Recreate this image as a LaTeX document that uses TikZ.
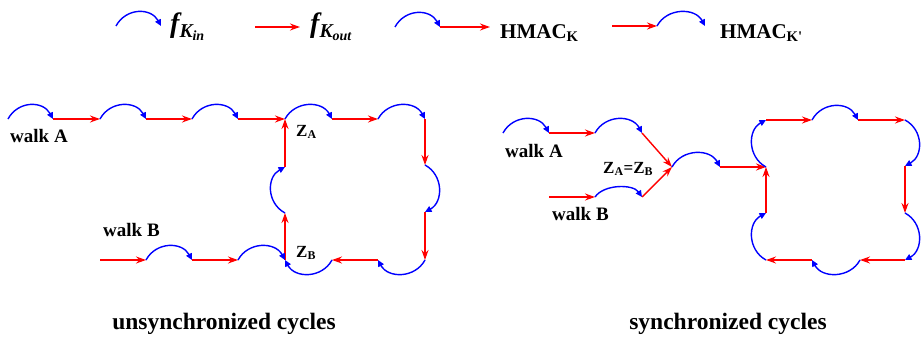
\documentclass[tikz,border=0pt]{standalone}
\usepackage{fontspec}
\usepackage{amsmath}
\setmainfont{Liberation Serif}
\usetikzlibrary{arrows.meta}
\tikzset{
  arcb/.style={draw=blue, line width=1.4pt, -{Triangle[length=6.5pt,width=6pt]}},
  arrr/.style={draw=red, line width=1.4pt, -{Stealth[length=10pt,width=7pt]}},
  bulgeU/.style={to path={.. controls +(10,-18.5) and +(-10,-18.5) .. (\tikztotarget)}},
  bulgeUf/.style={to path={.. controls +(9,-13) and +(-9,-13) .. (\tikztotarget)}},
  bulgeD/.style={to path={.. controls +(-10,18.5) and +(10,18.5) .. (\tikztotarget)}},
  bulgeR/.style={to path={.. controls +(18.5,10) and +(18.5,-10) .. (\tikztotarget)}},
  bulgeL/.style={to path={.. controls +(-18.5,-10) and +(-18.5,10) .. (\tikztotarget)}},
  lbl/.style={font=\fontsize{19}{21}\selectfont\bfseries, anchor=base west, inner sep=0pt},
  zlbl/.style={font=\fontsize{17}{19}\selectfont\bfseries, anchor=base west, inner sep=0pt},
  captxt/.style={font=\fontsize{23.5}{25}\selectfont\bfseries, anchor=base, inner sep=0pt},
  leg/.style={font=\fontsize{21}{23}\selectfont\bfseries, anchor=base west, inner sep=0pt},
  legf/.style={font=\fontsize{28}{30}\selectfont\bfseries\itshape, anchor=base west, inner sep=0pt}
}
\begin{document}
\begin{tikzpicture}[x=1pt,y=-1pt]
\useasboundingbox (0,0) rectangle (923,337);
% ---------- legend ----------
\coordinate (g1a) at (116,26); \coordinate (g1b) at (161,26);
\coordinate (g2a) at (255,27); \coordinate (g2b) at (300,27);
\coordinate (g3a) at (395,27); \coordinate (g3b) at (440,27); \coordinate (g3c) at (490,27);
\coordinate (g4a) at (612,26); \coordinate (g4b) at (657,26); \coordinate (g4c) at (705,26);
\draw[arcb] (g1a) to[bulgeU] (g1b);
\node[legf] (tfin) at (170,33) {f$_{\text{\textit{K}}_{\text{\textit{in}}}}$};
\draw[arrr] (g2a) -- (g2b);
\node[legf] (tfout) at (310,33) {f$_{\text{\textit{K}}_{\text{\textit{out}}}}$};
\draw[arcb] (g3a) to[bulgeU] (g3b);
\draw[arrr] (g3b) -- (g3c);
\node[leg] (thk) at (500,38) {HMAC$_{\text{K}}$};
\draw[arrr] (g4a) -- (g4b);
\draw[arcb] (g4b) to[bulgeU] (g4c);
\node[leg] (thkp) at (720,38) {HMAC$_{\text{K\textquotesingle}}$};
% ---------- left: unsynchronized ----------
\coordinate (T0) at (8,119);   \coordinate (T1) at (53,119);
\coordinate (T2) at (100,119); \coordinate (T3) at (146,119);
\coordinate (T4) at (192,119); \coordinate (T5) at (238,119);
\coordinate (ZA) at (285,119); \coordinate (T7) at (332,119);
\coordinate (T8) at (378,119); \coordinate (T9) at (425,119);
\coordinate (R1) at (425,165); \coordinate (R2) at (425,212);
\coordinate (R3) at (425,260);
\coordinate (B1) at (378,260); \coordinate (B2) at (332,260);
\coordinate (ZB) at (285,260);
\coordinate (L1) at (285,213); \coordinate (L2) at (285,167);
\coordinate (W0) at (100,260); \coordinate (W1) at (146,260);
\coordinate (W2) at (192,260); \coordinate (W3) at (238,260);
\draw[arcb] (T0) to[bulgeU] (T1);
\draw[arrr] (T1) -- (T2);
\draw[arcb] (T2) to[bulgeU] (T3);
\draw[arrr] (T3) -- (T4);
\draw[arcb] (T4) to[bulgeU] (T5);
\draw[arrr] (T5) -- (ZA);
\draw[arcb] (ZA) to[bulgeU] (T7);
\draw[arrr] (T7) -- (T8);
\draw[arcb] (T8) to[bulgeU] (T9);
\draw[arrr] (T9) -- (R1);
\draw[arcb] (R1) to[bulgeR] (R2);
\draw[arrr] (R2) -- (R3);
\draw[arcb] (R3) to[bulgeD] (B1);
\draw[arrr] (B1) -- (B2);
\draw[arcb] (B2) to[bulgeD] (ZB);
\draw[arrr] (ZB) -- (L1);
\draw[arcb] (L1) to[bulgeL] (L2);
\draw[arrr] (L2) -- (ZA);
\draw[arrr] (W0) -- (W1);
\draw[arcb] (W1) to[bulgeU] (W2);
\draw[arrr] (W2) -- (W3);
\draw[arcb] (W3) to[bulgeU] (ZB);
\node[lbl] (wa1) at (10,142) {walk A};
\node[lbl] (wb1) at (103,236) {walk B};
\node[zlbl] (za) at (296,136) {Z$_{\text{A}}$};
\node[zlbl] (zb) at (296,257) {Z$_{\text{B}}$};
\node[captxt] (c1) at (224,329) {unsynchronized cycles};
% ---------- right: synchronized ----------
\coordinate (A0) at (503,133); \coordinate (A1) at (549,133);
\coordinate (A2) at (595,133); \coordinate (A3) at (642,133);
\coordinate (S0) at (549,197); \coordinate (S1) at (595,197);
\coordinate (S2) at (642,197);
\coordinate (Z) at (672,167);  \coordinate (M1) at (720,167);
\coordinate (P) at (766,167);
\coordinate (Q1) at (766,120); \coordinate (Q2) at (812,120);
\coordinate (Q3) at (858,120); \coordinate (Q4) at (905,120);
\coordinate (Q5) at (905,166); \coordinate (Q6) at (905,213);
\coordinate (Q7) at (905,260); \coordinate (Q8) at (860,260);
\coordinate (Q9) at (812,260); \coordinate (Q10) at (766,260);
\coordinate (Q11) at (766,213);
\draw[arcb] (A0) to[bulgeU] (A1);
\draw[arrr] (A1) -- (A2);
\draw[arcb] (A2) to[bulgeU] (A3);
\draw[arrr] (A3) -- (Z);
\draw[arrr] (S0) -- (S1);
\draw[arcb] (S1) to[bulgeUf] (S2);
\draw[arrr] (S2) -- (Z);
\draw[arcb] (Z) to[bulgeU] (M1);
\draw[arrr] (M1) -- (P);
\draw[arcb] (P) to[bulgeL] (Q1);
\draw[arrr] (Q1) -- (Q2);
\draw[arcb] (Q2) to[bulgeU] (Q3);
\draw[arrr] (Q3) -- (Q4);
\draw[arcb] (Q4) to[bulgeR] (Q5);
\draw[arrr] (Q5) -- (Q6);
\draw[arcb] (Q6) to[bulgeR] (Q7);
\draw[arrr] (Q7) -- (Q8);
\draw[arcb] (Q8) to[bulgeD] (Q9);
\draw[arrr] (Q9) -- (Q10);
\draw[arcb] (Q10) to[bulgeL] (Q11);
\draw[arrr] (Q11) -- (P);
\node[lbl] (wa2) at (505,157) {walk A};
\node[lbl] (wb2) at (552,220) {walk B};
\node[zlbl] (zab) at (603,173) {Z$_{\text{A}}$=Z$_{\text{B}}$};
\node[captxt] (c2) at (728,329) {synchronized cycles};
\end{tikzpicture}
\end{document}
